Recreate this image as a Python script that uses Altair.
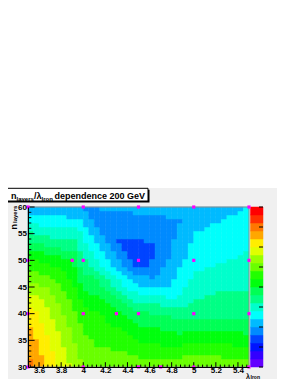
import itertools
import colorsys
import numpy as np
import pandas as pd
import altair as alt

FONT = "Liberation Sans"

pt_x = [3.5, 4.0, 4.5, 5.0, 5.5,
        3.5, 3.9, 4.0, 4.5, 5.0, 5.5,
        3.5, 4.0, 4.3, 4.5, 5.0, 5.5,
        3.5, 4.0, 4.5, 4.7, 5.0, 5.5]
pt_y = [60, 60, 60, 60, 60,
        50, 50, 50, 50, 50, 50,
        40, 40, 40, 40, 40, 40,
        30, 30, 30, 30, 30, 30]
pt_z = [37.1, 37.0, 37.1, 37.2, 37.4,
        39.5, 39.0, 38.3, 36.3, 37.6, 37.9,
        41.3, 39.6, 39.2, 38.7, 38.4, 38.4,
        42.0, 40.2, 40.0, 40.0, 40.2, 40.0]

# ---- axis tick values
x_major = [3.6, 3.8, 4.0, 4.2, 4.4, 4.6, 4.8, 5.0, 5.2, 5.4]
y_major = [30, 35, 40, 45, 50, 55, 60]
z_major = [35, 36, 37, 38, 39, 40, 41, 42, 43]
x_minor = [round(3.52 + 0.04 * k, 2) for k in range(50)]
x_minor = [v for v in x_minor if v not in x_major]
y_minor = [v for v in range(31, 60) if v % 5 != 0]

XMIN, XMAX, YMIN, YMAX = 3.5, 5.5, 30.0, 60.0
ZMIN, ZMAX = 35.0, 43.0
NB = 40          # TGraph2D histogram bins
NCONT = 20       # contour levels

# ---- Delaunay triangulation (normalised coordinates, like TGraph2D)
P = np.column_stack([(np.array(pt_x) - XMIN) / (XMAX - XMIN),
                     (np.array(pt_y) - YMIN) / (YMAX - YMIN)])
Z = np.array(pt_z, dtype=float)
n = len(P)
ci = [i for i in range(n) if pt_x[i] == 4.5 and pt_y[i] == 50][0]
lift = P[:, 0] ** 2 + P[:, 1] ** 2 - 1e-6 * P[:, 0] * P[:, 1]
lift[ci] -= 1e-4
tris = []
for a, b, c in itertools.combinations(range(n), 3):
    M = np.array([[P[a, 0], P[a, 1], 1.0], [P[b, 0], P[b, 1], 1.0], [P[c, 0], P[c, 1], 1.0]])
    if abs(np.linalg.det(M)) < 1e-10:
        continue
    coef = np.linalg.solve(M, lift[[a, b, c]])
    rest = [k for k in range(n) if k not in (a, b, c)]
    d = lift[rest] - (P[rest] @ coef[:2] + coef[2])
    if np.all(d > 1e-12):
        tris.append((a, b, c))


def interp(qx, qy):
    for a, b, c in tris:
        (x1, y1), (x2, y2), (x3, y3) = P[a], P[b], P[c]
        det = (y2 - y3) * (x1 - x3) + (x3 - x2) * (y1 - y3)
        l1 = ((y2 - y3) * (qx - x3) + (x3 - x2) * (qy - y3)) / det
        l2 = ((y3 - y1) * (qx - x3) + (x1 - x3) * (qy - y3)) / det
        l3 = 1 - l1 - l2
        if min(l1, l2, l3) >= -1e-9:
            return l1 * Z[a] + l2 * Z[b] + l3 * Z[c]
    return float("nan")


rows = []
for i in range(NB):
    for j in range(NB):
        qx = (i + 0.5) / NB
        qy = (j + 0.5) / NB
        rows.append({
            "x0": XMIN + i * (XMAX - XMIN) / NB, "x1": XMIN + (i + 1) * (XMAX - XMIN) / NB,
            "y0": YMIN + j * (YMAX - YMIN) / NB, "y1": YMIN + (j + 1) * (YMAX - YMIN) / NB,
            "z": interp(qx, qy)})
heat_df = pd.DataFrame(rows)


# ---- ROOT "pretty palette" (violet -> red), 20 contour levels
def root_color(j):
    hue = 280 - (j + 1) * 280 / 50
    r, g, b = colorsys.hls_to_rgb(hue / 360, 0.5, 1.0)
    return "#%02x%02x%02x" % (round(r * 255), round(g * 255), round(b * 255))


levels = [root_color(int((i + 0.99) * 50 / NCONT)) for i in range(NCONT)]
step = (ZMAX - ZMIN) / NCONT
cb_df = pd.DataFrame({"lo": [ZMIN + i * step for i in range(NCONT)],
                      "hi": [ZMIN + (i + 1) * step for i in range(NCONT)],
                      "mid": [ZMIN + (i + 0.5) * step for i in range(NCONT)]})
pts_df = pd.DataFrame({"x": pt_x, "y": pt_y})
one = pd.DataFrame({"k": [0]})

xs = alt.Scale(domain=[XMIN, XMAX], nice=False, zero=False)
ys = alt.Scale(domain=[YMIN, YMAX], nice=False, zero=False)
zs = alt.Scale(domain=[ZMIN, ZMAX], nice=False, zero=False)
cs = alt.Scale(type="quantize", domain=[ZMIN, ZMAX], range=levels, nice=False, zero=False)

W, H = 221, 160
lab = dict(labelFont=FONT, labelFontSize=8, labelFontWeight="bold", labelColor="black")

bg = alt.Chart(one).mark_rect(color="#f0f0f0").encode(
    x=alt.value(-20), x2=alt.value(249), y=alt.value(-19), y2=alt.value(172))

shadow = alt.Chart(one).mark_rect(color="black").encode(
    x=alt.value(-23.8), x2=alt.value(121.5), y=alt.value(-17.2), y2=alt.value(-4.5))
box = alt.Chart(one).mark_rect(fill="white", stroke="black", strokeWidth=1).encode(
    x=alt.value(-25.3), x2=alt.value(120), y=alt.value(-18.7), y2=alt.value(-6))

heat = alt.Chart(heat_df).mark_rect(strokeWidth=0.5).encode(
    x=alt.X("x0:Q", scale=xs, axis=alt.Axis(values=x_major, format="~g", title=None, ticks=False,
                                             tickSize=0, labelPadding=-1, domainColor="black",
                                             labelFlush=False, labelOverlap=False, zindex=1, **lab)),
    x2="x1:Q",
    y=alt.Y("y0:Q", scale=ys, axis=alt.Axis(values=y_major, title=None, ticks=False, tickSize=0,
                                             labelPadding=1.5, domainColor="black",
                                             labelFlush=False, labelOverlap=False, zindex=1, **lab)),
    y2="y1:Q",
    color=alt.Color("z:Q", scale=cs, legend=None),
    stroke=alt.Stroke("z:Q", scale=cs, legend=None),
)

frame = alt.Chart(one).mark_rect(fillOpacity=0, stroke="#8c8c8c", strokeWidth=1).encode(
    x=alt.value(0), x2=alt.value(W), y=alt.value(0), y2=alt.value(H))

xt_major = alt.Chart(pd.DataFrame({"v": x_major})).mark_rule(color="black", strokeWidth=1).encode(
    x=alt.X("v:Q", scale=xs, axis=None), y=alt.value(H), y2=alt.value(H - 4.8))
xt_minor = alt.Chart(pd.DataFrame({"v": x_minor})).mark_rule(color="black", strokeWidth=1).encode(
    x=alt.X("v:Q", scale=xs, axis=None), y=alt.value(H), y2=alt.value(H - 2.4))
yt_major = alt.Chart(pd.DataFrame({"v": y_major})).mark_rule(color="black", strokeWidth=1).encode(
    y=alt.Y("v:Q", scale=ys, axis=None), x=alt.value(0), x2=alt.value(6.6))
yt_minor = alt.Chart(pd.DataFrame({"v": y_minor})).mark_rule(color="black", strokeWidth=1).encode(
    y=alt.Y("v:Q", scale=ys, axis=None), x=alt.value(0), x2=alt.value(3.3))

CB0, CB1 = 222.5, 235
cbar = alt.Chart(cb_df).mark_rect(strokeWidth=0.5).encode(
    x=alt.value(CB0), x2=alt.value(CB1),
    y=alt.Y("lo:Q", scale=zs, axis=alt.Axis(orient="right", offset=CB1 - W, values=z_major, title=None,
                                             ticks=False, tickSize=0, domain=False, labelPadding=2,
                                             labelFlush=False, labelOverlap=False, **lab)),
    y2="hi:Q",
    color=alt.Color("mid:Q", scale=cs, legend=None),
    stroke=alt.Stroke("mid:Q", scale=cs, legend=None),
)
cb_ticks = alt.Chart(pd.DataFrame({"v": z_major})).mark_rule(color="black", strokeWidth=1).encode(
    y=alt.Y("v:Q", scale=zs, axis=None), x=alt.value(CB1 - 4), x2=alt.value(CB1))

pts = alt.Chart(pts_df).mark_square(size=10, color="#ff00ff", opacity=1).encode(
    x=alt.X("x:Q", scale=xs, axis=None), y=alt.Y("y:Q", scale=ys, axis=None))


def txt(s, x, y, size, align="left", angle=0):
    return alt.Chart(one).mark_text(text=s, font=FONT, fontSize=size, fontWeight="bold",
                                    color="black", align=align, baseline="alphabetic",
                                    angle=angle).encode(x=alt.value(x), y=alt.value(y))


texts = [
    txt("n", -17, -8.5, 9),
    txt("layers", -11.5, -6.5, 6),
    txt("/λ", 6, -8.5, 9),
    txt("Iron", 13.5, -6.5, 6),
    txt("dependence 200 GeV", 26.5, -8.5, 9),
    txt("n", -11, 22.5, 9, angle=270),
    txt("layers", -11.5, 16, 6, angle=270),
    txt("λ", 222, 171.5, 7, align="right"),
    txt("Iron", 222.5, 172, 5),
]

chart = alt.layer(
    bg, shadow, box, heat, frame, xt_major, xt_minor, yt_major, yt_minor,
    cbar, cb_ticks, pts, *texts
).resolve_scale(y="independent").resolve_axis(x="independent").properties(
    width=W, height=H,
    autosize=alt.AutoSizeParams(type="none"),
    padding={"left": 20, "top": 199, "right": 31, "bottom": 12},
    background="white",
).configure_view(stroke=None).configure_axis(grid=False)

chart.save("out.html", embed_options={"renderer": "svg", "actions": False})
